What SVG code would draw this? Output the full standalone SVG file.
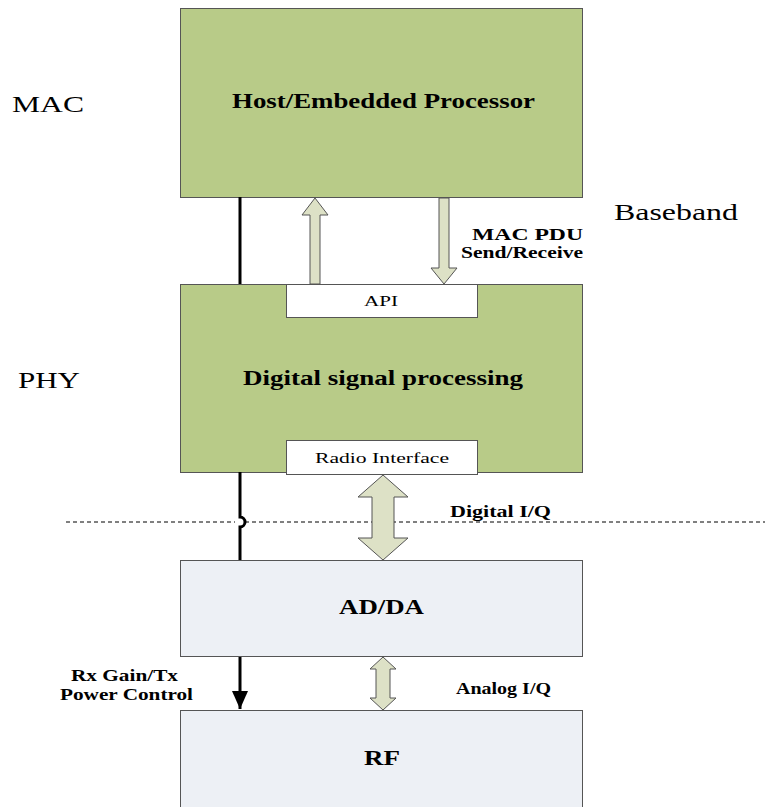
<svg xmlns="http://www.w3.org/2000/svg" width="765" height="807" viewBox="0 0 765 807">
<style>
.g{fill:#b8cb88;stroke:#555;stroke-width:1}
.b{fill:#edf0f5;stroke:#555;stroke-width:1}
.w{fill:#fff;stroke:#555;stroke-width:1}
.ar{fill:#dde1c6;stroke:#555;stroke-width:1}
.t{font-family:"Liberation Serif",serif;fill:#000}
.bd{font-weight:bold}
</style>
<defs>
<marker id="ahb" markerWidth="20" markerHeight="20" refX="18" refY="10" orient="auto" markerUnits="userSpaceOnUse" viewBox="0 0 20 20">
<path d="M0,2 L18,10 L0,18 z" fill="#000"/>
</marker>
</defs>
<rect width="765" height="807" fill="#fff"/>
<text class="t" x="12" y="112" font-size="23" textLength="72" lengthAdjust="spacingAndGlyphs">MAC</text>
<text class="t" x="18" y="388" font-size="23" textLength="62" lengthAdjust="spacingAndGlyphs">PHY</text>
<text class="t" x="614" y="220" font-size="23" textLength="124" lengthAdjust="spacingAndGlyphs">Baseband</text>
<g id="host">
<rect class="g" x="180.5" y="8.5" width="402" height="189"/>
<text class="t bd" x="232" y="108" font-size="20" textLength="303" lengthAdjust="spacingAndGlyphs">Host/Embedded Processor</text>
</g>
<g id="dsp">
<rect class="g" x="180.5" y="284.5" width="402" height="188"/>
<text class="t bd" x="243" y="385" font-size="20" textLength="280" lengthAdjust="spacingAndGlyphs">Digital signal processing</text>
</g>
<g id="api">
<rect class="w" x="286.5" y="284.5" width="191" height="33"/>
<text class="t" x="364" y="306" font-size="15" textLength="34" lengthAdjust="spacingAndGlyphs">API</text>
</g>
<g id="radio">
<rect class="w" x="286.5" y="440.5" width="191" height="34"/>
<text class="t" x="315" y="463" font-size="15" textLength="134" lengthAdjust="spacingAndGlyphs">Radio Interface</text>
</g>
<g id="adda">
<rect class="b" x="180.5" y="560.5" width="402" height="96"/>
<text class="t bd" x="339" y="614" font-size="20" textLength="85" lengthAdjust="spacingAndGlyphs">AD/DA</text>
</g>
<g id="rf">
<rect class="b" x="180.5" y="710.5" width="402" height="100"/>
<text class="t bd" x="364" y="765" font-size="20" textLength="36" lengthAdjust="spacingAndGlyphs">RF</text>
</g>
<g id="connectors">
<path d="M240,197 V284" stroke="#000" stroke-width="3" fill="none"/>
<path d="M240,472 V517 A5,5 0 0 1 240,527 V560" stroke="#000" stroke-width="3" fill="none"/>
<path d="M66,522 H235 M245,522 H765" stroke="#000" stroke-width="1" stroke-dasharray="4,3" fill="none"/>
<path d="M240,657 V709" stroke="#000" stroke-width="3" fill="none" marker-end="url(#ahb)"/>
<path class="ar" d="M310,284 V215 H302 L315,198 L328,215 H320 V284 Z"/>
<path class="ar" d="M439,198 V268 H431 L444,284 L457,268 H449 V198 Z"/>
<path class="ar" d="M383,475 L408,497 H394 V538 H408 L383,560 L358,538 H372 V497 H358 Z"/>
<path class="ar" d="M383,657 L396,669 H390 V698 H396 L383,710 L370,698 H376 V669 H370 Z"/>
</g>
<text class="t bd" x="472" y="240" font-size="16" textLength="111" lengthAdjust="spacingAndGlyphs">MAC PDU</text>
<text class="t bd" x="461" y="258" font-size="16" textLength="122" lengthAdjust="spacingAndGlyphs">Send/Receive</text>
<text class="t bd" x="450" y="517" font-size="16" textLength="101" lengthAdjust="spacingAndGlyphs">Digital I/Q</text>
<text class="t bd" x="71" y="681" font-size="16" textLength="107" lengthAdjust="spacingAndGlyphs">Rx Gain/Tx</text>
<text class="t bd" x="60" y="700" font-size="16" textLength="133" lengthAdjust="spacingAndGlyphs">Power Control</text>
<text class="t bd" x="456" y="694" font-size="16" textLength="95" lengthAdjust="spacingAndGlyphs">Analog I/Q</text>
</svg>
